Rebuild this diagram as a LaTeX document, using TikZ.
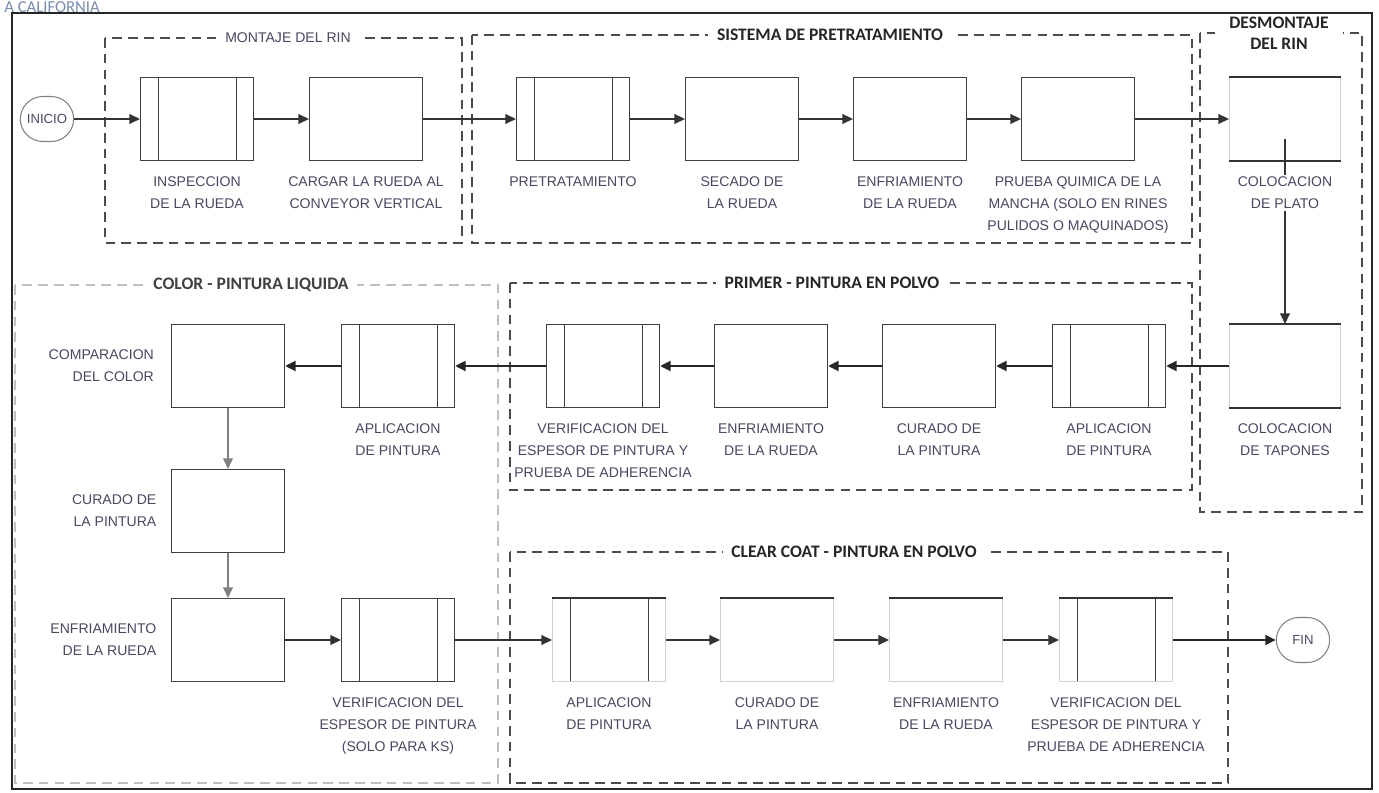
\documentclass[tikz,border=0pt]{standalone}
\usepackage{fontspec}
\setmainfont{Carlito}
\newfontfamily\lblfont{Liberation Sans}
\usetikzlibrary{arrows.meta, positioning, shapes.misc}
\definecolor{lblgray}{RGB}{72, 72, 96}
\definecolor{hdrblue}{RGB}{120, 140, 172}

\tikzset{
  proc/.style={draw=black!75, line width=0.6pt, minimum width=2.26cm, minimum height=1.66cm, inner sep=0pt},
  procpale/.style={proc, draw=black!18},
  subproc/.style={proc, path picture={
      \draw[black!75, line width=0.6pt] ([xshift=0.36cm]path picture bounding box.north west) -- ([xshift=0.36cm]path picture bounding box.south west);
      \draw[black!75, line width=0.6pt] ([xshift=-0.34cm]path picture bounding box.north east) -- ([xshift=-0.34cm]path picture bounding box.south east);}},
  subpale/.style={subproc, draw=black!18},
  terminal/.style={rounded rectangle, draw=black!50, line width=0.6pt, minimum width=1.3cm, minimum height=0.9cm, font=\lblfont\fontsize{7.5}{10}\selectfont, text=lblgray},
  grp/.style={draw=black!70, line width=0.6pt, dash pattern=on 5.5pt off 3.5pt},
  grppale/.style={grp, draw=black!25},
  grptitle/.style={fill=white, inner xsep=5pt, inner ysep=1pt, font=\fontsize{10}{12}\selectfont\bfseries, text=black!85, align=center},
  lbl/.style={font=\lblfont\fontsize{8}{12.5}\selectfont, text=lblgray, align=center, inner sep=1pt, fill=white},
  flow/.style={-{Triangle[length=6pt, width=5.5pt]}, line width=0.9pt, draw=black!80},
  flowb/.style={flow, line width=1.5pt, draw=black!85},
  flowl/.style={flow, line width=0.8pt, draw=black!50}
}

\begin{document}
\begin{tikzpicture}[x=0.02cm, y=-0.02cm]
  \useasboundingbox (0,0) rectangle (1379,793);

  % header left over from the page
  \node[font=\fontsize{9.5}{10}\selectfont, text=hdrblue, anchor=base west, inner sep=0pt] (hdr) at (4,13) {A CALIFORNIA};

  % frame
  \draw[line width=1pt, black!85] (12,13) rectangle (1372,789);

  % === Groups ===
  \draw[grp] (105,38) rectangle (462,243);
  \node[grptitle, font=\lblfont\fontsize{8}{11}\selectfont, text=lblgray] (tMontaje) at (288,38) {MONTAJE DEL RIN};
  \draw[grp] (472,35) rectangle (1192,243);
  \node[grptitle] (tPretrat) at (830,35) {SISTEMA DE PRETRATAMIENTO};
  \draw[grp] (1200,33) rectangle (1362,512);
  \node[grptitle, inner xsep=8pt] (tDesmontaje) at (1279,33) {DESMONTAJE\\DEL RIN};
  \draw[grppale] (15,285) rectangle (498,783);
  \node[grptitle, text=black!75] (tColor) at (251,285) {COLOR - PINTURA LIQUIDA};
  \draw[grp] (510,283) rectangle (1192,490);
  \node[grptitle] (tPrimer) at (832,283) {PRIMER - PINTURA EN POLVO};
  \draw[grp] (510,552) rectangle (1228,783);
  \node[grptitle] (tClear) at (854,552) {CLEAR COAT - PINTURA EN POLVO};

  % === Row 1 ===
  \node[terminal] (inicio) at (47,119) {INICIO};
  \node[subproc] (insp) at (197,119) {};
  \node[proc] (cargar) at (366,119) {};
  \node[subproc] (pretrat) at (573,119) {};
  \node[proc] (secado) at (742,119) {};
  \node[proc] (enfr) at (910,119) {};
  \node[proc] (prueba) at (1078,119) {};
  \node[procpale, minimum width=2.22cm] (plato) at (1285,119) {};

  % === Row 2 (right to left) ===
  \node[procpale, minimum width=2.22cm] (tapones) at (1285,366) {};
  \node[subproc] (aplP) at (1109,366) {};
  \node[proc] (curP) at (939,366) {};
  \node[proc] (enfP) at (771,366) {};
  \node[subproc] (verP) at (603,366) {};
  \node[subproc] (aplC) at (398,366) {};
  \node[proc] (comp) at (228,366) {};

  % === Color column and row 3 ===
  \node[proc] (curC) at (228,511) {};
  \node[proc] (enfC) at (228,640) {};
  \node[subproc] (verC) at (398,640) {};
  \node[subpale] (aplCC) at (609,640) {};
  \node[procpale] (curCC) at (777,640) {};
  \node[procpale] (enfCC) at (946,640) {};
  \node[subpale] (verCC) at (1116,640) {};
  \node[terminal] (fin) at (1303,640) {FIN};

  % dark edges the scan kept
  \foreach \n in {plato, tapones} {
    \draw[black!80, line width=0.7pt] (\n.north west) -- (\n.north east);
    \draw[black!80, line width=0.7pt] (\n.south west) -- (\n.south east);
  }
  \foreach \n in {aplCC, curCC, enfCC, verCC}
    \draw[black!80, line width=0.7pt] (\n.north west) -- (\n.north east);

  % === Connectors ===
  \draw[flow] (inicio) -- (insp);
  \draw[flow] (insp) -- (cargar);
  \draw[flow] (cargar) -- (pretrat);
  \draw[flow] (pretrat) -- (secado);
  \draw[flow] (secado) -- (enfr);
  \draw[flow] (enfr) -- (prueba);
  \draw[flow] (prueba) -- (plato);
  \draw[flow] ([yshift=-0.4cm]plato.center) -- (tapones);
  \draw[flowb] (tapones) -- (aplP);
  \draw[flowb] (aplP) -- (curP);
  \draw[flowb] (curP) -- (enfP);
  \draw[flowb] (enfP) -- (verP);
  \draw[flowb] (verP) -- (aplC);
  \draw[flowb] (aplC) -- (comp);
  \draw[flowl] (comp) -- (curC);
  \draw[flowl] (curC) -- (enfC);
  \draw[flow] (enfC) -- (verC);
  \draw[flow] (verC) -- (aplCC);
  \draw[flow] (aplCC) -- (curCC);
  \draw[flow] (curCC) -- (enfCC);
  \draw[flow] (enfCC) -- (verCC);
  \draw[flowb] (verCC) -- (fin);

  % === Labels ===
  \node[lbl, below=0.28cm of insp] (insp-l) {INSPECCION\\DE LA RUEDA};
  \node[lbl, below=0.28cm of cargar] (cargar-l) {CARGAR LA RUEDA AL\\CONVEYOR VERTICAL};
  \node[lbl, below=0.28cm of pretrat] (pretrat-l) {PRETRATAMIENTO};
  \node[lbl, below=0.28cm of secado] (secado-l) {SECADO DE\\LA RUEDA};
  \node[lbl, below=0.28cm of enfr] (enfr-l) {ENFRIAMIENTO\\DE LA RUEDA};
  \node[lbl, below=0.28cm of prueba] (prueba-l) {PRUEBA QUIMICA DE LA\\MANCHA (SOLO EN RINES\\PULIDOS O MAQUINADOS)};
  \node[lbl, below=0.28cm of plato] (plato-l) {COLOCACION\\DE PLATO};
  \node[lbl, below=0.28cm of tapones] (tapones-l) {COLOCACION\\DE TAPONES};
  \node[lbl, below=0.28cm of aplP] (aplP-l) {APLICACION\\DE PINTURA};
  \node[lbl, below=0.28cm of curP] (curP-l) {CURADO DE\\LA PINTURA};
  \node[lbl, below=0.28cm of enfP] (enfP-l) {ENFRIAMIENTO\\DE LA RUEDA};
  \node[lbl, below=0.28cm of verP] (verP-l) {VERIFICACION DEL\\ESPESOR DE PINTURA Y\\PRUEBA DE ADHERENCIA};
  \node[lbl, below=0.28cm of aplC] (aplC-l) {APLICACION\\DE PINTURA};
  \node[lbl, align=right, left=0.3cm of comp] (comp-l) {COMPARACION\\DEL COLOR};
  \node[lbl, align=right, left=0.25cm of curC] (curC-l) {CURADO DE\\LA PINTURA};
  \node[lbl, align=right, left=0.25cm of enfC] (enfC-l) {ENFRIAMIENTO\\DE LA RUEDA};
  \node[lbl, below=0.28cm of verC] (verC-l) {VERIFICACION DEL\\ESPESOR DE PINTURA\\(SOLO PARA KS)};
  \node[lbl, below=0.28cm of aplCC] (aplCC-l) {APLICACION\\DE PINTURA};
  \node[lbl, below=0.28cm of curCC] (curCC-l) {CURADO DE\\LA PINTURA};
  \node[lbl, below=0.28cm of enfCC] (enfCC-l) {ENFRIAMIENTO\\DE LA RUEDA};
  \node[lbl, below=0.28cm of verCC] (verCC-l) {VERIFICACION DEL\\ESPESOR DE PINTURA Y\\PRUEBA DE ADHERENCIA};
\end{tikzpicture}
\end{document}
